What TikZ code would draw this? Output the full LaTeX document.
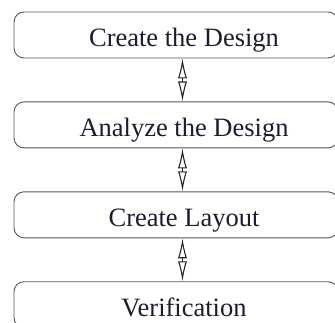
\documentclass[tikz,border=0pt]{standalone}
\usepackage{fontspec}
\setmainfont{Liberation Serif}
\usetikzlibrary{positioning,arrows.meta}
\definecolor{stepink}{RGB}{28,28,48}
\definecolor{stepline}{RGB}{85,85,85}

\begin{document}
\begin{tikzpicture}[x=1pt,y=1pt,node distance=43pt,
    stepbox/.style={draw=stepline,line width=0.9pt,rounded corners=10pt,
      minimum width=324pt,minimum height=46pt,inner sep=0pt,text=stepink,
      text height=23pt,text depth=0pt,
      font=\fontsize{26.5}{30}\selectfont,execute at begin node={\hspace*{16pt}}},
    flow/.style={draw=black!85,line width=1.1pt,
      {Latex[open,length=20pt,width=9pt]}-{Latex[open,length=20pt,width=9pt]}}]
      \useasboundingbox (0,0) rectangle (335,-322);
      \node[stepbox] (design) at (176,-35) {Create the Design};
      \node[stepbox,below=of design] (analyze) {Analyze the Design};
      \node[stepbox,below=of analyze] (layout) {Create Layout};
      \node[stepbox,below=of layout] (verify) {Verification};
      \draw[flow] ([xshift=6.5pt]design.south) -- ([xshift=6.5pt]analyze.north);
      \draw[flow] ([xshift=6.5pt]analyze.south) -- ([xshift=6.5pt]layout.north);
      \draw[flow] ([xshift=6.5pt]layout.south) -- ([xshift=6.5pt]verify.north);
    \end{tikzpicture}
\end{document}
